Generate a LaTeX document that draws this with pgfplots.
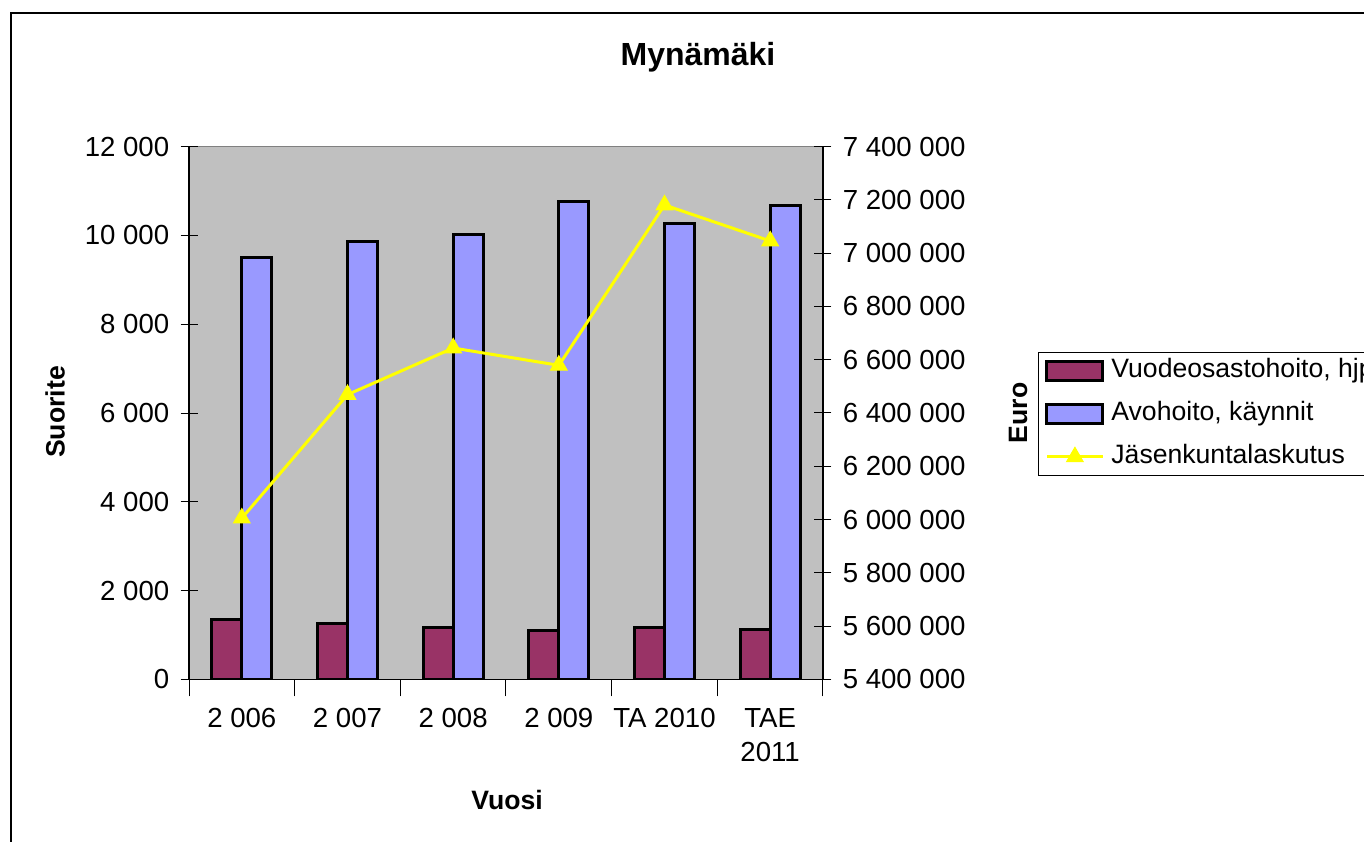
\documentclass[border=0pt]{standalone}
\usepackage{fontspec}
\setmainfont{Liberation Sans}
\usepackage{pgfplots}
\pgfplotsset{compat=1.18}
\definecolor{barmaroon}{HTML}{993366}
\definecolor{barblue}{HTML}{9999FF}
\definecolor{plotbg}{HTML}{C0C0C0}
\definecolor{lineyellow}{HTML}{FFFF00}
\pgfplotsset{
  mybarlegend/.style={legend image code/.code={\draw[##1] (0pt,-4.75pt) rectangle (28pt,4.75pt);}},
  mylinelegend/.style={legend image code/.code={\draw[##1, mark repeat=2, mark phase=2] plot coordinates {(0pt,0pt) (14pt,0pt) (28pt,0pt)};}},
  commonaxis/.style={
    at={(94.5pt,80.85pt)}, anchor=south west,
    scale only axis, width=317pt, height=266.3pt,
    xmin=-0.5, xmax=5.5,
    tick align=center, major tick length=8.5pt, minor tick length=8.5pt,
    scaled y ticks=false,
    tick label style={font=\fontsize{13.8pt}{17pt}\selectfont},
    yticklabel style={/pgf/number format/fixed, /pgf/number format/precision=0, /pgf/number format/1000 sep={\ }, /pgf/number format/assume math mode=true},
  },
}
\begin{document}
\fontsize{13.3pt}{16pt}\selectfont
\begin{tikzpicture}
\useasboundingbox (0,0) rectangle (682pt,420.5pt);
\clip (0,0) rectangle (682pt,420.5pt);
\fill[white] (0,0) rectangle (682pt,420.5pt);
\draw[line width=1pt] (5.5pt,-20pt) rectangle (700pt,414.15pt);
\begin{axis}[
  commonaxis,
  ymin=0, ymax=12000,
  axis y line*=left, axis x line*=bottom,
  axis line style={black, line width=0.6pt, -},
  axis background/.style={fill=plotbg, draw=gray},
  ybar=0pt, bar width=15pt,
  xtick={0,...,5},
  xticklabels={2 006,2 007,2 008,2 009,TA 2010,{TAE\\2011}},
  major x tick style={draw=none},
  minor xtick={-0.5,0.5,...,5.5},
  minor x tick style={draw=black, line width=0.5pt},
  ytick distance=2000,
  y tick style={black, line width=0.5pt},
  xticklabel style={align=center, yshift=-1.5pt},
  yticklabel style={xshift=-1pt},
]
\addplot[fill=barmaroon, draw=black, line width=1.5pt] coordinates {(0,1348)(1,1258)(2,1159)(3,1106)(4,1174)(5,1121)};
\addplot[fill=barblue, draw=black, line width=1.5pt] coordinates {(0,9512)(1,9857)(2,10015)(3,10758)(4,10263)(5,10675)};
\end{axis}
\begin{axis}[
  commonaxis,
  ymin=5400000, ymax=7400000,
  axis y line*=right, axis x line=none,
  axis line style={black, line width=0.6pt, -},
  ytick distance=200000,
  y tick style={black, line width=0.5pt},
  yticklabel style={xshift=1pt},
  legend style={at={(1.339,0.6145)}, anchor=north west, draw=black, line width=0.5pt, fill=white,
    font=\fontsize{13.3pt}{16pt}\selectfont, legend cell align=left,
    inner xsep=3.5pt, inner ysep=2pt, row sep=7.1pt,
    nodes={inner sep=1pt, text height=9.6pt, text depth=2.8pt},
    /tikz/every odd column/.append style={column sep=2.5pt}},
]
\addlegendimage{mybarlegend, fill=barmaroon, draw=black, line width=1.5pt}
\addlegendentry{Vuodeosastohoito, hjp}
\addlegendimage{mybarlegend, fill=barblue, draw=black, line width=1.5pt}
\addlegendentry{Avohoito, käynnit}
\addplot[mylinelegend, lineyellow, line width=1.5pt, mark=triangle*, mark size=4.8pt, mark options={fill=lineyellow, draw=lineyellow, line width=0.5pt}] coordinates {(0,6005000)(1,6469000)(2,6644000)(3,6579000)(4,7181000)(5,7046000)};
\addlegendentry{Jäsenkuntalaskutus}
\end{axis}
\node[font=\bfseries\fontsize{16pt}{19pt}\selectfont] at (349pt,392pt) {Mynämäki};
\node[font=\bfseries\fontsize{13.3pt}{16pt}\selectfont, rotate=90] at (27.5pt,214.5pt) {Suorite};
\node[font=\bfseries\fontsize{13.3pt}{16pt}\selectfont, rotate=90] at (509pt,214pt) {Euro};
\node[font=\bfseries\fontsize{13.3pt}{16pt}\selectfont] at (253.5pt,20.5pt) {Vuosi};
\end{tikzpicture}
\end{document}
